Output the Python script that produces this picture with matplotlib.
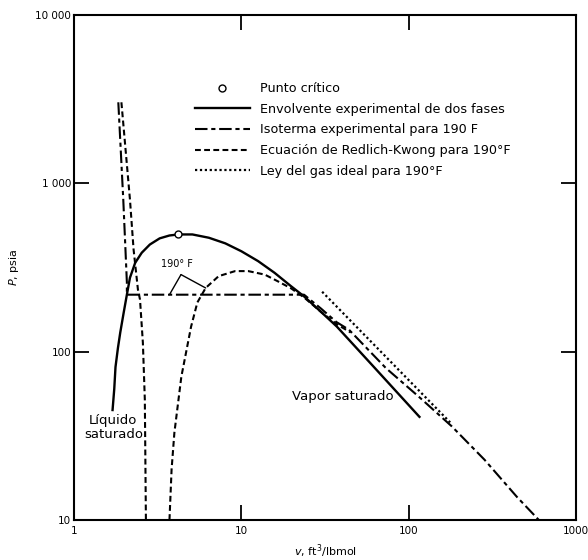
import matplotlib
matplotlib.use('Agg')
import matplotlib.pyplot as plt
from matplotlib.lines import Line2D

plt.rcParams['font.family'] = ['DejaVu Sans']

# envolvente experimental de dos fases (v ft3/lbmol, P psia)
env_v = [1.70, 1.74, 1.77, 1.83, 1.89, 1.98, 2.07, 2.16, 2.32, 2.54, 2.84, 3.25, 3.72, 4.20,
         5.10, 6.40, 8.02, 10.0, 12.6, 15.8, 19.8, 23.7, 30, 37.2, 60, 116]
env_p = [45, 60, 81, 105, 130, 170, 218, 275, 337, 387, 433, 471, 490, 497,
         497, 475, 440, 395, 345, 294, 245, 213, 172, 141, 84, 41]

# punto critico
crit_v = [4.20]
crit_p = [497]

# isoterma experimental 190 F
iso_v = [1.84, 1.97, 2.03, 2.07, 2.07, 23.7, 30, 37, 44, 73, 115, 181, 284, 444, 600]
iso_p = [3030, 800, 405, 258, 218, 218, 180, 150, 135, 80, 54, 36, 22.8, 13.7, 10]

# Redlich-Kwong 190 F (rama liquida y rama de vapor)
rk1_v = [1.92, 2.16, 2.27, 2.41, 2.48, 2.58, 2.65, 2.69]
rk1_p = [3030, 800, 405, 234, 204, 113, 52, 10]
rk2_v = [3.72, 3.83, 3.98, 4.38, 5.01, 5.46, 6.12, 7.32, 9.18, 11.0, 13.8, 16.5, 19.8, 23.7, 30, 37, 45]
rk2_p = [10, 20, 33, 71, 141, 196, 239, 281, 301, 301, 287, 262, 238, 210, 172, 146, 130]

# gas ideal 190 F
gi_v = [30.4, 177]
gi_p = [227, 38]

xticks = [1, 10, 100, 1000]
xlabels = ['1', '10', '100', '1000']
yticks = [10, 100, 1000, 10000]
ylabels = ['10', '100', '1 000', '10 000']

iso_ls = (0, (6, 1.8, 2, 1.8))
rk_ls = (0, (2.8, 1.6))
gi_ls = (0, (1, 1.2))
lw = 1.5

fig = plt.figure(figsize=(5.88, 5.60), dpi=100)
ax = fig.add_axes([74/588, 40/560, 502/588, 505/560])
ax.set_xscale('log')
ax.set_yscale('log')

ax.plot(env_v, env_p, color='black', lw=1.7)
ax.plot(iso_v, iso_p, color='black', lw=lw, linestyle=iso_ls)
ax.plot(rk1_v, rk1_p, color='black', lw=lw, linestyle=rk_ls)
ax.plot(rk2_v, rk2_p, color='black', lw=lw, linestyle=rk_ls)
ax.plot(gi_v, gi_p, color='black', lw=1.6, linestyle=gi_ls)
ax.plot(crit_v, crit_p, 'o', mfc='white', mec='black', ms=5, mew=1.0, zorder=5)

ax.set_xlim(1, 1000)
ax.set_ylim(10, 10000)
ax.set_xticks(xticks)
ax.set_xticklabels(xlabels)
ax.set_yticks(yticks)
ax.set_yticklabels(ylabels)
ax.minorticks_off()
ax.tick_params(which='major', direction='in', length=11, width=1.3,
               top=True, right=True, labelsize=7.5)
ax.tick_params(axis='y', pad=2)
ax.tick_params(axis='x', pad=4)
for s in ax.spines.values():
    s.set_linewidth(1.5)

ax.set_xlabel(r'$v$, ft$^3$/lbmol', fontsize=8, labelpad=5)
ax.set_ylabel(r'$P$, psia', fontsize=8)
ax.yaxis.set_label_coords(-0.105, 0.5)

# leyenda
handles = [
    Line2D([], [], marker='o', mfc='white', mec='black', ms=5, mew=1.0, linestyle='none'),
    Line2D([], [], color='black', lw=1.7),
    Line2D([], [], color='black', lw=lw, linestyle=iso_ls),
    Line2D([], [], color='black', lw=lw, linestyle=rk_ls),
    Line2D([], [], color='black', lw=1.6, linestyle=gi_ls),
]
labels = ['Punto crítico',
          'Envolvente experimental de dos fases',
          'Isoterma experimental para 190 F',
          'Ecuación de Redlich-Kwong para 190°F',
          'Ley del gas ideal para 190°F']
ax.legend(handles, labels, loc='upper left', bbox_to_anchor=(0.241, 0.867),
          frameon=False, fontsize=9.2, handlelength=4.3, handletextpad=0.78,
          labelspacing=0.6, borderpad=0, borderaxespad=0)

# etiquetas
ax.text(4.14, 330, '190° F', fontsize=7, ha='center', va='center')
ax.annotate('', xy=(3.72, 218), xytext=(4.36, 287),
            arrowprops=dict(arrowstyle='-', color='black', lw=1.0, shrinkA=0, shrinkB=0))
ax.annotate('', xy=(6.12, 239), xytext=(4.36, 287),
            arrowprops=dict(arrowstyle='-', color='black', lw=1.0, shrinkA=0, shrinkB=0))
ax.text(1.72, 35.3, 'Líquido\nsaturado', fontsize=9.5, ha='center', va='center', linespacing=1.1)
ax.text(20.2, 54, 'Vapor saturado', fontsize=9.5, ha='left', va='center')

fig.savefig('out.png', dpi=100)
